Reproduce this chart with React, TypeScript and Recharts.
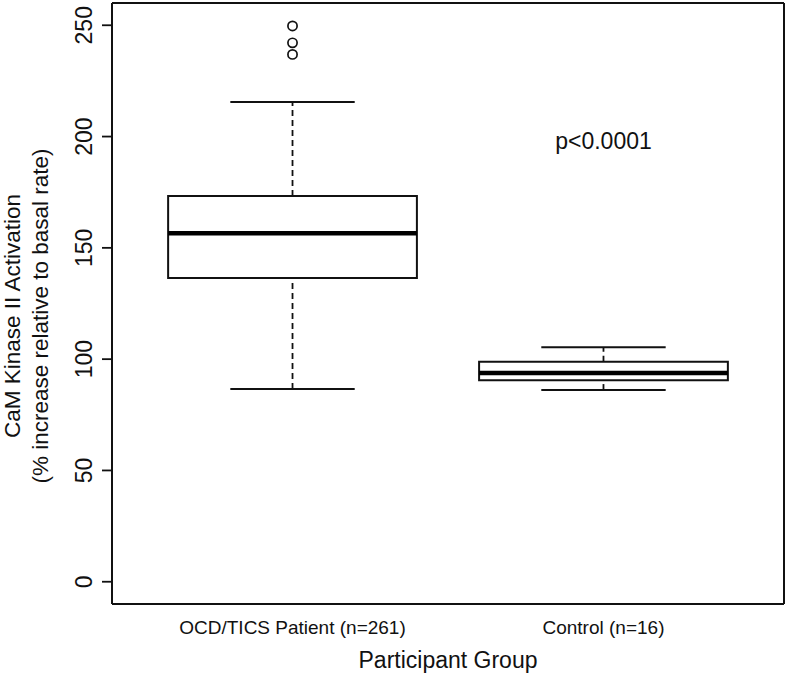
import React from 'react';
import {
  ComposedChart,
  XAxis,
  YAxis,
  Scatter,
  ReferenceArea,
  ReferenceLine,
} from 'recharts';

const groups = ['OCD/TICS Patient (n=261)', 'Control (n=16)'];
const groupPos = [1, 2];
const whiskerLow = [86.6, 86.1];
const q1 = [136.5, 90.5];
const median = [156.6, 93.8];
const q3 = [173.3, 98.8];
const whiskerHigh = [215.5, 105.3];
const outliersPatient = [249.7, 242.1, 236.9];
const yTicks = [0, 50, 100, 150, 200, 250];
const annotation = [{ x: 2, y: 200, text: 'p<0.0001' }];

const X_DOMAIN: [number, number] = [0.4195, 2.5805];
const Y_DOMAIN: [number, number] = [-10, 260];
const BOX_HALF = 0.4;
const CAP_HALF = 0.2;
const FONT = '"Liberation Sans", Arial, Helvetica, sans-serif';
const INK = '#111';

const outlierData = outliersPatient.map((v) => ({ x: groupPos[0], y: v }));

const YTick = (props: any) => {
  const { x, y, payload } = props;
  return (
    <text
      transform={`translate(${x - 10}, ${y}) rotate(-90)`}
      textAnchor="middle"
      fontSize={23}
      fontFamily={FONT}
      fill={INK}
    >
      {payload.value}
    </text>
  );
};

const XTick = (props: any) => {
  const { x, y, payload } = props;
  const idx = groupPos.indexOf(payload.value);
  return (
    <text x={x} y={y + 30} textAnchor="middle" fontSize={19} fontFamily={FONT} fill={INK}>
      {idx >= 0 ? groups[idx] : ''}
    </text>
  );
};

const XTitle = (props: any) => {
  const vb = props.viewBox || { x: 112, y: 604, width: 672, height: 73 };
  return (
    <text
      x={vb.x + vb.width / 2}
      y={vb.y + 64}
      textAnchor="middle"
      fontSize={23}
      fontFamily={FONT}
      fill={INK}
    >
      Participant Group
    </text>
  );
};

const YTitle = (props: any) => {
  const vb = props.viewBox || { x: 0, y: 3, width: 112, height: 601 };
  const cy = vb.y + 313;
  return (
    <g>
      <text
        transform={`translate(${vb.x + 20}, ${cy}) rotate(-90)`}
        textAnchor="middle"
        fontSize={22.5}
        fontFamily={FONT}
        fill={INK}
      >
        CaM Kinase II Activation
      </text>
      <text
        transform={`translate(${vb.x + 48}, ${cy}) rotate(-90)`}
        textAnchor="middle"
        fontSize={22.5}
        fontFamily={FONT}
        fill={INK}
      >
        (% increase relative to basal rate)
      </text>
    </g>
  );
};

const OutlierShape = (props: any) => {
  const { cx, cy } = props;
  return <circle cx={cx} cy={cy} r={4.6} fill="#fff" stroke={INK} strokeWidth={1.7} />;
};

const AnnotationShape = (props: any) => {
  const { cx, cy, payload } = props;
  return (
    <text x={cx} y={cy + 12.5} textAnchor="middle" fontSize={23} fontFamily={FONT} fill={INK}>
      {payload.text}
    </text>
  );
};

export default function App() {
  return (
    <div style={{ position: 'absolute', left: 0, top: 0, background: '#fff' }}>
      <ComposedChart
        width={789}
        height={677}
        margin={{ top: 3, right: 5, left: 0, bottom: 0 }}
      >
        <XAxis
          type="number"
          dataKey="x"
          domain={X_DOMAIN}
          ticks={groupPos}
          allowDataOverflow
          height={73}
          tickLine={false}
          tickSize={0}
          tickMargin={0}
          axisLine={{ stroke: INK, strokeWidth: 2 }}
          tick={<XTick />}
          label={(p: any) => <XTitle {...p} />}
        />
        <YAxis
          type="number"
          dataKey="y"
          domain={Y_DOMAIN}
          ticks={yTicks}
          allowDataOverflow
          width={112}
          tickSize={10}
          tickMargin={0}
          tickLine={{ stroke: INK, strokeWidth: 1.8 }}
          axisLine={{ stroke: INK, strokeWidth: 2 }}
          tick={<YTick />}
          label={(p: any) => <YTitle {...p} />}
        />
        <ReferenceLine y={Y_DOMAIN[1]} stroke={INK} strokeWidth={2} ifOverflow="visible" />
        <ReferenceLine x={X_DOMAIN[1]} stroke={INK} strokeWidth={2} ifOverflow="visible" />

        {groupPos.map((g, i) => (
          <ReferenceLine
            key={`wu-${i}`}
            segment={[
              { x: g, y: q3[i] },
              { x: g, y: whiskerHigh[i] },
            ]}
            stroke={INK}
            strokeWidth={1.8}
            strokeDasharray="6 4"
          />
        ))}
        {groupPos.map((g, i) => (
          <ReferenceLine
            key={`wl-${i}`}
            segment={[
              { x: g, y: whiskerLow[i] },
              { x: g, y: q1[i] },
            ]}
            stroke={INK}
            strokeWidth={1.8}
            strokeDasharray="6 4"
          />
        ))}
        {groupPos.map((g, i) => (
          <ReferenceLine
            key={`cu-${i}`}
            segment={[
              { x: g - CAP_HALF, y: whiskerHigh[i] },
              { x: g + CAP_HALF, y: whiskerHigh[i] },
            ]}
            stroke={INK}
            strokeWidth={2}
          />
        ))}
        {groupPos.map((g, i) => (
          <ReferenceLine
            key={`cl-${i}`}
            segment={[
              { x: g - CAP_HALF, y: whiskerLow[i] },
              { x: g + CAP_HALF, y: whiskerLow[i] },
            ]}
            stroke={INK}
            strokeWidth={2}
          />
        ))}
        {groupPos.map((g, i) => (
          <ReferenceArea
            key={`box-${i}`}
            x1={g - BOX_HALF}
            x2={g + BOX_HALF}
            y1={q1[i]}
            y2={q3[i]}
            fill="#fff"
            fillOpacity={1}
            stroke={INK}
            strokeWidth={2}
          />
        ))}
        {groupPos.map((g, i) => (
          <ReferenceLine
            key={`med-${i}`}
            segment={[
              { x: g - BOX_HALF, y: median[i] },
              { x: g + BOX_HALF, y: median[i] },
            ]}
            stroke="#000"
            strokeWidth={4.5}
          />
        ))}

        <Scatter
          data={outlierData}
          dataKey="y"
          shape={<OutlierShape />}
          isAnimationActive={false}
        />
        <Scatter
          data={annotation}
          dataKey="y"
          shape={<AnnotationShape />}
          isAnimationActive={false}
        />
      </ComposedChart>
    </div>
  );
}
